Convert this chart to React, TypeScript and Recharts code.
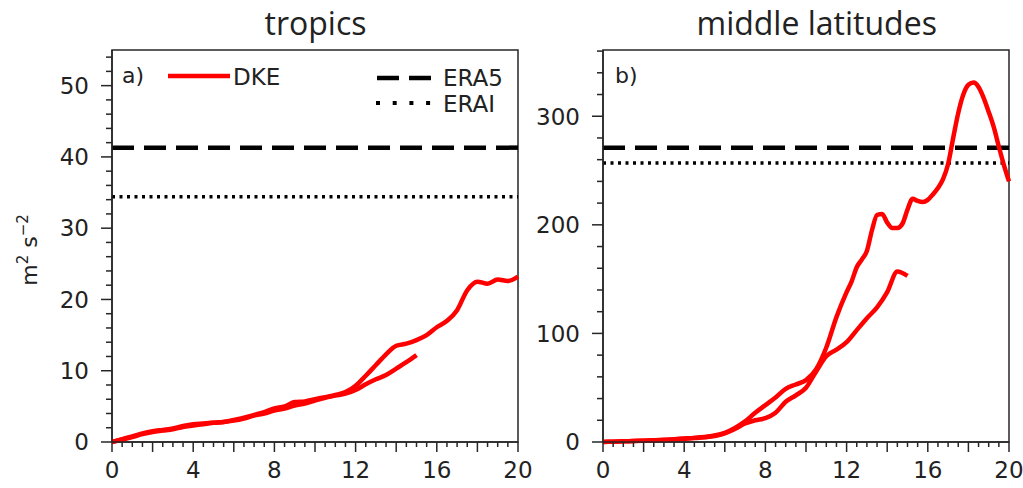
import { LineChart, Line, XAxis, YAxis, ReferenceLine, ReferenceArea, Customized } from 'recharts';

const AXIS = '#262626';
const TEXT = '#222222';
const RED = '#ff0000';
const TICK_FONT = '"DejaVu Sans", sans-serif';
const TITLE_FONT = '"Open Sans", sans-serif';

// lead time in hours
const leadTime = [
  0, 0.5, 1, 1.5, 2, 2.5, 3, 3.5, 4, 4.5, 5, 5.5, 6, 6.5, 7, 7.5, 8, 8.5, 9, 9.5, 10,
  10.5, 11, 11.5, 12, 12.5, 13, 13.5, 14, 14.5, 15, 15.5, 16, 16.5, 17, 17.5, 18, 18.5, 19, 19.5, 20,
];
const leadTimeShort = leadTime.slice(0, 31);
const midlatFullTime = [
  0, 0.5, 1, 1.5, 2, 2.5, 3, 3.5, 4, 4.5, 5, 5.5, 6, 6.5, 7, 7.5, 8, 8.5, 9, 9.5, 10, 10.5, 11, 11.5, 12,
  12.25, 12.5, 12.75, 13, 13.25, 13.5, 13.75, 14, 14.25, 14.5, 14.75, 15, 15.25, 15.5, 15.75, 16,
  16.25, 16.5, 16.75, 17, 17.25, 17.5, 17.75, 18, 18.25, 18.5, 18.75, 19, 19.25, 19.5, 19.75, 20,
];

// DKE, m2 s-2
const tropicsFull = [
  0, 0.4, 0.8, 1.2, 1.5, 1.7, 1.9, 2.25, 2.5, 2.6, 2.7, 2.8, 3.1, 3.4, 3.8, 4.2, 4.7, 5.0, 5.6, 5.7, 6.0,
  6.3, 6.6, 7.0, 7.9, 9.3, 10.8, 12.3, 13.5, 13.8, 14.3, 15.0, 16.1, 17.0, 18.5, 21.3, 22.5, 22.2, 22.8, 22.6, 23.2,
];
const tropicsShort = [
  0, 0.35, 0.7, 1.1, 1.4, 1.6, 1.8, 2.1, 2.3, 2.5, 2.7, 2.8, 3.0, 3.3, 3.7, 4.0, 4.4, 4.7, 5.1, 5.4, 5.8,
  6.2, 6.5, 6.8, 7.3, 8.1, 8.8, 9.4, 10.3, 11.2, 12.2,
];
const midlatFull = [
  0, 0.3, 0.6, 0.9, 1.2, 1.6, 2, 2.6, 3.2, 3.8, 4.6, 6, 8.5, 13, 19, 27, 34, 41, 49, 53, 57, 67, 87, 115, 138,
  148, 161, 168, 176, 195, 209, 210, 202, 197, 197, 201, 214, 224, 222, 221, 223,
  228, 234, 242, 256, 280, 303, 320, 329, 331, 327, 317, 304, 290, 272, 255, 240,
];
const midlatShort = [
  0, 0.3, 0.6, 0.9, 1.2, 1.5, 1.9, 2.4, 3, 3.6, 4.3, 5.5, 8, 12, 17, 20, 22, 27, 37, 43, 50,
  65, 79, 85, 92, 103, 114, 124, 138, 157, 153,
];

// reanalysis reference levels
const tropicsEra5 = 41.3;
const tropicsErai = 34.4;
const midlatEra5 = 271;
const midlatErai = 257;

const xLabels = [0, 4, 8, 12, 16, 20];
const tropicsYLabels = [0, 10, 20, 30, 40, 50];
const midlatYLabels = [0, 100, 200, 300];

const toPoints = (t: number[], v: number[]) => t.map((h, i) => ({ t: h, v: v[i] }));
const steps = (max: number, step: number) => {
  const out: number[] = [];
  for (let v = 0; v <= max + 1e-9; v += step) out.push(Math.round(v * 100) / 100);
  return out;
};

const XTick = (props: any) => {
  const { x, y, payload } = props;
  const v = payload.value;
  const major = v % 2 === 0;
  return (
    <g>
      <line x1={x} x2={x} y1={y} y2={y + (major ? 10 : 5)} stroke={AXIS} strokeWidth={1.5} />
      {xLabels.includes(v) && (
        <text x={x} y={y + 28} dy="0.36em" textAnchor="middle" fontSize={23} fontFamily={TICK_FONT} fill={TEXT}>
          {v}
        </text>
      )}
    </g>
  );
};

const makeYTick = (labels: number[]) => (props: any) => {
  const { x, y, payload } = props;
  const v = payload.value;
  const major = labels.includes(v);
  return (
    <g>
      <line x1={x - (major ? 11 : 6)} x2={x} y1={y} y2={y} stroke={AXIS} strokeWidth={1.5} />
      {major && (
        <text x={x - 23} y={y} dy="0.36em" textAnchor="end" fontSize={23} fontFamily={TICK_FONT} fill={TEXT}>
          {v}
        </text>
      )}
    </g>
  );
};

interface PanelProps {
  width: number;
  yAxisWidth: number;
  yMax: number;
  yTicks: number[];
  yLabels: number[];
  full: { t: number; v: number }[];
  short: { t: number; v: number }[];
  era5: number;
  erai: number;
  overlay: () => JSX.Element;
}

function Panel({ width, yAxisWidth, yMax, yTicks, yLabels, full, short, era5, erai, overlay }: PanelProps) {
  return (
    <LineChart
      width={width}
      height={488}
      margin={{ top: 50, right: width - yAxisWidth - 406, bottom: 0, left: 0 }}
    >
      <XAxis
        type="number"
        dataKey="t"
        domain={[0, 20]}
        ticks={steps(20, 0.5)}
        interval={0}
        tick={XTick}
        tickLine={false}
        tickSize={0}
        tickMargin={0}
        height={46}
        axisLine={{ stroke: AXIS, strokeWidth: 1.5 }}
      />
      <YAxis
        type="number"
        domain={[0, yMax]}
        ticks={yTicks}
        interval={0}
        tick={makeYTick(yLabels)}
        tickLine={false}
        tickSize={0}
        tickMargin={0}
        width={yAxisWidth}
        axisLine={{ stroke: AXIS, strokeWidth: 1.5 }}
      />
      <ReferenceLine y={era5} stroke="#000" strokeWidth={4.5} strokeDasharray="22 10" />
      <ReferenceLine y={erai} stroke="#000" strokeWidth={3.5} strokeDasharray="3 4.5" />
      <Line data={full} dataKey="v" type="monotone" stroke={RED} strokeWidth={4.5} dot={false} isAnimationActive={false} />
      <Line data={short} dataKey="v" type="monotone" stroke={RED} strokeWidth={4.5} dot={false} isAnimationActive={false} />
      <ReferenceArea x1={0} x2={20} y1={0} y2={yMax} fill="none" stroke={AXIS} strokeWidth={1.5} />
      <Customized component={overlay} />
    </LineChart>
  );
}

const TropicsOverlay = () => (
  <g fill={TEXT}>
    <text x={315.5} y={35} textAnchor="middle" fontSize={32} fontFamily={TITLE_FONT}>tropics</text>
    <text x={122} y={75} dy="0.36em" fontSize={22} fontFamily={TICK_FONT}>a)</text>
    <text transform="rotate(-90, 37, 250)" x={37} y={250} textAnchor="middle" fontSize={22} fontFamily={TICK_FONT}>
      m<tspan dy={-9} fontSize={15}>2</tspan>
      <tspan dy={9}> s</tspan>
      <tspan dy={-9} fontSize={15}>−2</tspan>
    </text>
    <line x1={168} x2={230} y1={76} y2={76} stroke={RED} strokeWidth={4.5} />
    <text x={233} y={77} dy="0.36em" fontSize={23} fontFamily={TICK_FONT}>DKE</text>
    <line x1={377} x2={432} y1={78} y2={78} stroke="#000" strokeWidth={4.5} strokeDasharray="22 10" />
    <text x={443} y={78} dy="0.36em" fontSize={23} fontFamily={TICK_FONT}>ERA5</text>
    <line x1={376} x2={432} y1={103} y2={103} stroke="#000" strokeWidth={4} strokeDasharray="4 12.7" />
    <text x={443} y={104} dy="0.36em" fontSize={23} fontFamily={TICK_FONT}>ERAI</text>
  </g>
);

const MidlatOverlay = () => (
  <g fill={TEXT}>
    <text x={281.7} y={35} textAnchor="middle" fontSize={32} fontFamily={TITLE_FONT}>middle latitudes</text>
    <text x={80} y={75} dy="0.36em" fontSize={22} fontFamily={TICK_FONT}>b)</text>
  </g>
);

export default function App() {
  return (
    <div style={{ position: 'absolute', left: 0, top: 0, width: 1023, height: 488, background: '#fff' }}>
      <div style={{ position: 'absolute', left: 0, top: 0 }}>
        <Panel
          width={535}
          yAxisWidth={112}
          yMax={55}
          yTicks={steps(54, 2)}
          yLabels={tropicsYLabels}
          full={toPoints(leadTime, tropicsFull)}
          short={toPoints(leadTimeShort, tropicsShort)}
          era5={tropicsEra5}
          erai={tropicsErai}
          overlay={TropicsOverlay}
        />
      </div>
      <div style={{ position: 'absolute', left: 535, top: 0 }}>
        <Panel
          width={488}
          yAxisWidth={68}
          yMax={361}
          yTicks={steps(360, 20)}
          yLabels={midlatYLabels}
          full={toPoints(midlatFullTime, midlatFull)}
          short={toPoints(leadTimeShort, midlatShort)}
          era5={midlatEra5}
          erai={midlatErai}
          overlay={MidlatOverlay}
        />
      </div>
    </div>
  );
}
